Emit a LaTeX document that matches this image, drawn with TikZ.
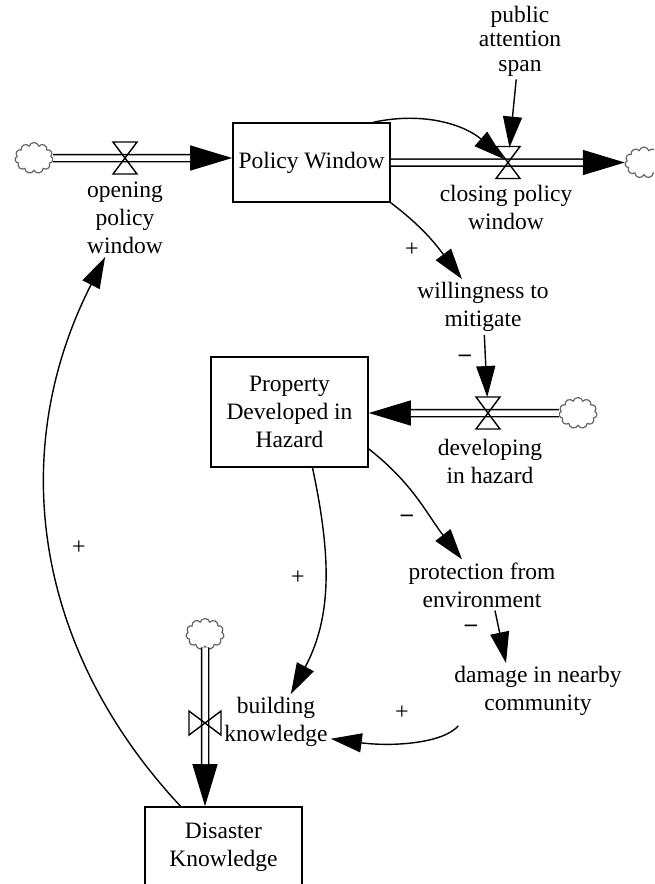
\documentclass[tikz,border=0pt]{standalone}
\usepackage{fontspec}
\setmainfont{Liberation Serif}
\usetikzlibrary{arrows.meta,shapes.symbols}

\begin{document}
\begin{tikzpicture}[x=1pt,y=1pt,
  stock/.style={draw,line width=1.6pt,minimum width=157pt,align=center,font=\fontsize{23.5}{28}\selectfont},
  aux/.style={align=center,font=\fontsize{23.5}{28}\selectfont,inner sep=3pt},
  sink/.style={cloud,cloud puffs=11,aspect=1.25,draw=black!60,line width=1.2pt,minimum width=38pt,minimum height=31pt,inner sep=0pt},
  info/.style={draw,line width=1.4pt,-{Triangle[length=31pt,width=19pt]}},
  flowtip/.style={draw,line width=1.4pt,-{Triangle[length=42pt,width=25pt]}},
  pipe/.style={draw,line width=1.5pt,double=white,double distance=5.5pt,shorten >=42pt},
  valve/.style={draw,line width=1.4pt},
  pol/.style={font=\fontsize{24}{24}\selectfont,inner sep=0pt}]
\useasboundingbox (0,0) rectangle (654,-884);
\clip (0,0) rectangle (654,-884);

% stocks
\node[stock,minimum height=79pt] (pwin) at (311.5,-162.5) {Policy Window};
\node[stock,minimum height=110pt] (prop) at (289.5,-412) {Property\\Developed in\\Hazard};
\node[stock,minimum height=80pt] (disk) at (223.5,-847) {Disaster\\Knowledge};

% sources and sinks
\node[sink] (cloudL) at (34,-158) {};
\node[sink] (cloudR) at (644,-162.5) {};
\node[sink] (cloudD) at (578,-413) {};
\node[sink] (cloudK) at (205,-634) {};

% valves
\coordinate (openv) at (125,-158);
\coordinate (closev) at (508,-162.5);
\coordinate (devv) at (488,-413);
\coordinate (buildv) at (205,-723);

% variables
\node[aux] (openlbl) at (125,-218) {opening\\policy\\window};
\node[aux] (closelbl) at (506,-207) {closing policy\\window};
\node[aux,font=\fontsize{23.5}{24.5}\selectfont] (pubspan) at (520,-41) {public\\attention\\span};
\node[aux] (willing) at (483,-307) {willingness to\\mitigate};
\node[aux] (devlbl) at (490,-461) {developing\\in hazard};
\node[aux] (protect) at (482,-585) {protection from\\environment};
\node[aux] (damage) at (538,-691) {damage in nearby\\community};
\node[aux] (buildlbl) at (276,-722) {building\\knowledge};

% flows
\draw[flowtip] (cloudL) -- (cloudL -| pwin.west);
\draw[pipe] (cloudL) -- (cloudL -| pwin.west);
\draw[flowtip] (pwin.east) -- (cloudR);
\draw[pipe] (pwin.east) -- (cloudR);
\draw[flowtip] (cloudD) -- (cloudD -| prop.east);
\draw[pipe] (cloudD) -- (cloudD -| prop.east);
\draw[flowtip] (cloudK) -- (cloudK |- disk.north);
\draw[pipe] (cloudK) -- (cloudK |- disk.north);

\draw[valve] (openv) +(-12,16) -- +(12,16) -- +(-12,-16) -- +(12,-16) -- cycle;
\draw[valve] (closev) +(-12,16) -- +(12,16) -- +(-12,-16) -- +(12,-16) -- cycle;
\draw[valve] (devv) +(-12,16) -- +(12,16) -- +(-12,-16) -- +(12,-16) -- cycle;
\draw[valve] (buildv) +(-16,12) -- +(-16,-12) -- +(16,12) -- +(16,-12) -- cycle;

% links
\draw[info,shorten >=5pt] (pwin.33) to[out=12,in=139] (closev);
\draw[info,shorten >=15pt] (pubspan) -- (closev);
\draw[info] (pwin.south east) to[out=-37,in=127] (willing);
\draw[info,shorten >=16pt] (willing) -- (devv);
\draw[info] (prop.-25) to[out=-38,in=128] (protect);
\draw[info] ([xshift=13pt]protect.south) -- ([xshift=-32pt]damage.north);
\draw[info] ([xshift=7pt,yshift=-7pt]damage.south west) .. controls +(-16,-18) and +(60,-8) .. (buildlbl.-17);
\draw[info] ([xshift=23pt]prop.south) to[out=-78,in=62] (buildlbl);
\draw[info] ([xshift=-43pt]disk.north) to[out=133,in=-117] (openlbl);

% polarities
\node[pol] (s1) at (412,-250) {+};
\node[pol] (s2) at (465,-358) {\textbf{--}};
\node[pol] (s3) at (407,-518) {\textbf{--}};
\node[pol] (s4) at (471,-628) {\textbf{--}};
\node[pol] (s5) at (402,-713) {+};
\node[pol] (s6) at (298,-578) {+};
\node[pol] (s7) at (79,-548) {+};
\end{tikzpicture}
\end{document}
